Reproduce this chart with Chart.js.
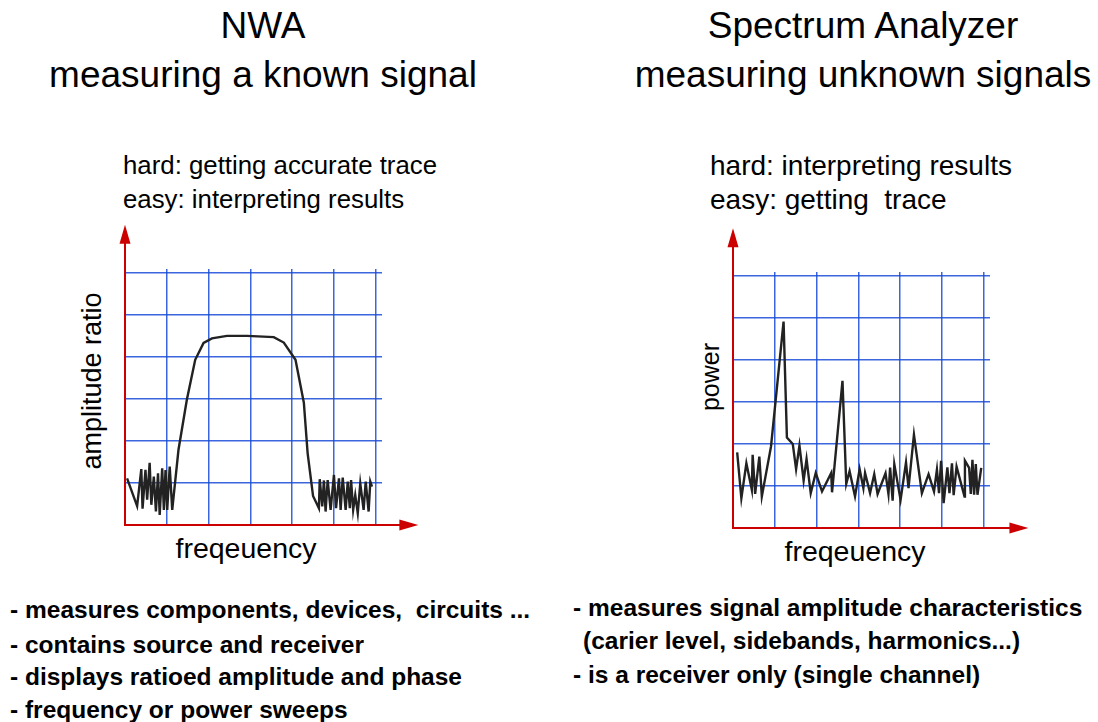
<!DOCTYPE html>
<html>
<head>
<meta charset="utf-8">
<script src="https://cdn.jsdelivr.net/npm/chart.js@4.4.1/dist/chart.umd.min.js"></script>
<style>
  body { margin: 0; width: 1098px; height: 722px; background: #fff; position: relative; overflow: hidden;
         font-family: "Liberation Sans", Arial, sans-serif; color: #000; }
  .t { position: absolute; white-space: pre; line-height: 1; }
  .title { font-size: 37px; transform: translateX(-50%); }
  .bul { font-size: 24.5px; font-weight: bold; }
  .rot { transform: translate(-50%, -50%) rotate(-90deg); }
  .ctr { font-size: 28.5px; transform: translateX(-50%); }
  .box { position: absolute; width: 330px; height: 325px; }
</style>
</head>
<body>
<div class="t title" style="left:263px; top:7px;">NWA</div>
<div class="t title" style="left:263px; top:56px;">measuring a known signal</div>
<div class="t title" style="left:863px; top:7px;">Spectrum Analyzer</div>
<div class="t title" style="left:863px; top:56px;">measuring unknown signals</div>

<div class="t" style="left:123px; top:153px; font-size:25.8px;">hard: getting accurate trace</div>
<div class="t" style="left:123px; top:187px; font-size:25.8px;">easy: interpreting results</div>
<div class="t" style="left:710px; top:152px; font-size:28px;">hard: interpreting results</div>
<div class="t" style="left:710px; top:186px; font-size:28px;">easy: getting  trace</div>

<div class="t rot" style="left:92px; top:381px; font-size:27px;">amplitude ratio</div>
<div class="t rot" style="left:710px; top:377px; font-size:25px;">power</div>
<div class="t ctr" style="left:246px; top:534px;">freqeuency</div>
<div class="t ctr" style="left:855px; top:537px;">freqeuency</div>

<div class="t bul" style="left:10px; top:598px;">- measures components, devices,  circuits ...</div>
<div class="t bul" style="left:10px; top:633px;">- contains source and receiver</div>
<div class="t bul" style="left:10px; top:665px;">- displays ratioed amplitude and phase</div>
<div class="t bul" style="left:10px; top:698px;">- frequency or power sweeps</div>
<div class="t bul" style="left:573px; top:596px;">- measures signal amplitude characteristics</div>
<div class="t bul" style="left:583px; top:629px;">(carier level, sidebands, harmonics...)</div>
<div class="t bul" style="left:573px; top:663px;">- is a receiver only (single channel)</div>

<div class="box" style="left:100px; top:215px;"><canvas id="nwaChart"></canvas></div>
<div class="box" style="left:708px; top:218px;"><canvas id="saChart"></canvas></div>

<script>
// NWA trace: amplitude ratio vs frequency (grid units, 6 x 6 divisions)
const nwaFreq = [0.05, 0.29, 0.39, 0.42, 0.49, 0.53, 0.59, 0.63, 0.69, 0.74, 0.79, 0.83, 0.89, 0.93, 0.97, 1.01, 1.07, 1.13,
  1.28, 1.48, 1.68, 1.88, 2.08, 2.44, 2.92, 3.56, 3.80, 4.08, 4.28, 4.37, 4.50, 4.64,
  4.66, 4.72, 4.76, 4.80, 4.85, 4.92, 5.00, 5.05, 5.12, 5.16, 5.21, 5.28, 5.33, 5.38, 5.41, 5.46, 5.51, 5.57, 5.63, 5.71, 5.76, 5.83, 5.87, 5.91];
const nwaRatio = [1.11, 0.45, 1.33, 0.39, 1.31, 0.60, 1.48, 0.48, 1.15, 0.32, 1.23, 0.24, 1.35, 0.36, 1.31, 0.36, 1.39, 0.36,
  1.79, 2.98, 3.93, 4.33, 4.44, 4.50, 4.50, 4.47, 4.34, 3.93, 2.91, 1.71, 0.69, 0.40,
  1.09, 0.44, 1.06, 0.32, 1.07, 0.36, 1.19, 0.40, 1.11, 0.36, 1.13, 0.36, 1.03, 0.40, 1.07, 0.36, 0.71, 0.28, 0.99, 0.36, 1.03, 0.32, 1.03, 0.91];

// Spectrum analyzer trace: power vs frequency
const saFreq = [0.10, 0.20, 0.32, 0.45, 0.47, 0.53, 0.63, 0.69, 0.91, 1.21, 1.29, 1.43, 1.51, 1.59, 1.69, 1.76, 1.86, 1.98,
  2.13, 2.35, 2.37, 2.62, 2.71, 2.79, 2.92, 3.03, 3.12, 3.16, 3.28, 3.38, 3.46, 3.65, 3.72, 3.76, 3.82, 3.86, 4.01, 4.14,
  4.20, 4.33, 4.52, 4.68, 4.81, 4.88, 4.93, 4.98, 5.04, 5.13, 5.18, 5.24, 5.28, 5.35, 5.54, 5.55, 5.65, 5.69, 5.73, 5.77,
  5.81, 5.85, 5.94];
const saPower = [1.80, 0.71, 1.54, 0.91, 1.74, 0.81, 1.70, 0.75, 1.94, 4.91, 2.15, 2.00, 1.40, 1.96, 1.13, 1.64, 0.83, 1.31,
  0.87, 1.31, 0.85, 3.50, 1.05, 1.35, 0.75, 1.40, 0.95, 1.31, 0.83, 1.28, 0.81, 1.30, 0.81, 1.44, 0.65, 1.52, 0.67, 1.56,
  0.95, 2.22, 0.83, 1.28, 0.87, 1.39, 0.83, 1.60, 0.59, 1.44, 0.83, 1.54, 0.78, 1.46, 0.75, 1.60, 1.43, 0.81, 1.62, 0.79,
  1.52, 0.79, 1.43];

// grid divisions (same on both axes)
const gridTicks = [0, 1, 2, 3, 4, 5, 6];
const GRID_BLUE = 'rgba(25,75,215,0.85)';
const AXIS_RED = '#cc0000';

// red axes with arrow heads, drawn from the chart's own scales
const redAxes = {
  id: 'redAxes',
  afterDraw(chart, args, opts) {
    const { ctx, scales: { x, y } } = chart;
    const x0 = x.getPixelForValue(0), y0 = y.getPixelForValue(0);
    const xTip = x.getPixelForValue(opts.xTip), yTip = y.getPixelForValue(opts.yTip);
    ctx.save();
    ctx.strokeStyle = AXIS_RED;
    ctx.fillStyle = AXIS_RED;
    ctx.lineWidth = 2;
    ctx.beginPath();
    ctx.moveTo(x0, y0); ctx.lineTo(x0, yTip + 15);
    ctx.moveTo(x0 - 1, y0); ctx.lineTo(xTip - 15, y0);
    ctx.stroke();
    ctx.beginPath();
    ctx.moveTo(x0, yTip); ctx.lineTo(x0 - 5.5, yTip + 19); ctx.lineTo(x0 + 5.5, yTip + 19);
    ctx.closePath(); ctx.fill();
    ctx.beginPath();
    ctx.moveTo(xTip, y0); ctx.lineTo(xTip - 19, y0 - 5.5); ctx.lineTo(xTip - 19, y0 + 5.5);
    ctx.closePath(); ctx.fill();
    ctx.restore();
  }
};

// skip the line at 0, the red axis sits there
function gridColor(c) {
  return c.tick.value > 0 ? GRID_BLUE : 'rgba(0,0,0,0)';
}

function setGridTicks(scale) {
  scale.ticks = gridTicks.map(v => ({ value: v }));
}

function makeChart(id, xs, ys, tips) {
  const ctx = document.getElementById(id).getContext('2d');
  return new Chart(ctx, {
    type: 'line',
    data: {
      datasets: [{
        data: xs.map((v, i) => ({ x: v, y: ys[i] })),
        borderColor: '#222',
        borderWidth: 2.4,
        pointRadius: 0,
        tension: 0,
        fill: false
      }]
    },
    options: {
      responsive: true,
      maintainAspectRatio: false,
      animation: false,
      layout: { padding: { left: 25, top: 54, right: 48, bottom: 15 } },
      plugins: {
        legend: { display: false },
        tooltip: { enabled: false },
        redAxes: tips
      },
      scales: {
        x: {
          type: 'linear', min: 0, max: 6.15,
          afterBuildTicks: setGridTicks,
          ticks: { display: false },
          border: { display: false },
          grid: { color: gridColor, lineWidth: 1.5, drawTicks: false }
        },
        y: {
          min: 0, max: 6.09,
          afterBuildTicks: setGridTicks,
          ticks: { display: false },
          border: { display: false },
          grid: { color: gridColor, lineWidth: 1.5, drawTicks: false }
        }
      }
    },
    plugins: [redAxes]
  });
}

makeChart('nwaChart', nwaFreq, nwaRatio, { xTip: 7.02, yTip: 7.14 });
makeChart('saChart', saFreq, saPower, { xTip: 7.07, yTip: 7.13 });
</script>
</body>
</html>
